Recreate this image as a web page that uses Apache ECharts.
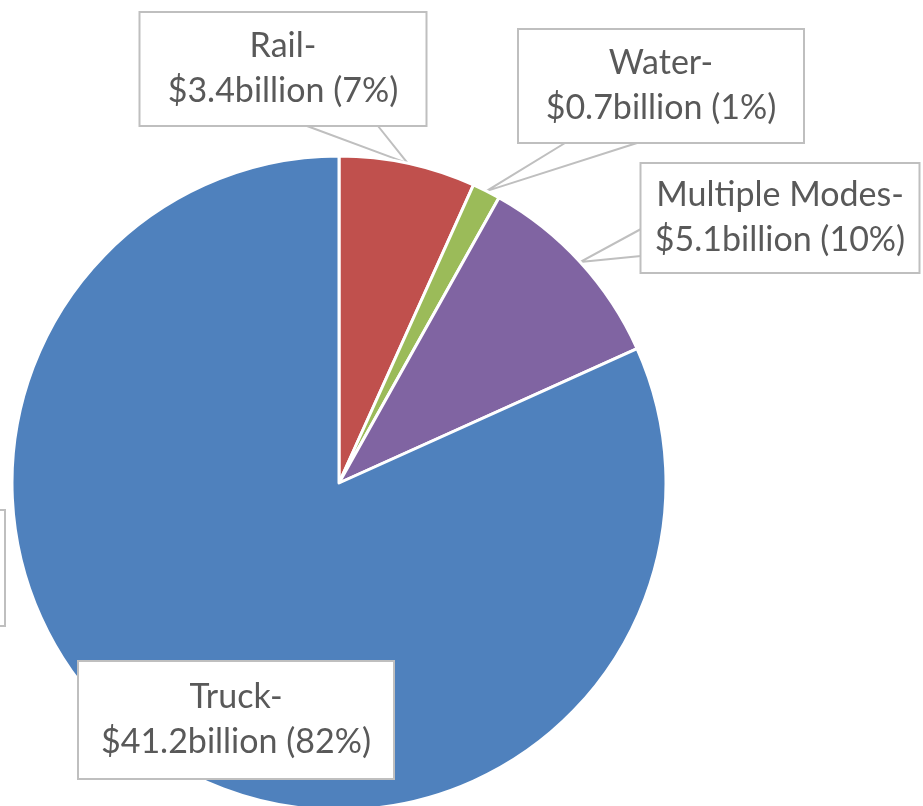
<!DOCTYPE html>
<html>
<head>
<meta charset="utf-8">
<script src="https://cdn.jsdelivr.net/npm/echarts@6/dist/echarts.min.js"></script>
<style>
html,body{margin:0;padding:0;background:#fff;}
#chart{width:923px;height:806px;}
</style>
</head>
<body>
<div id="chart"></div>
<script>
const categories = ["Rail", "Water", "Multiple Modes", "Truck"];
const valuesBillion = [3.4, 0.7, 5.1, 41.2];
const colors = ["#C0504D", "#9BBB59", "#8064A2", "#4F81BD"];

// label box centres and callout base points (layout only)
const labelBoxes = [
  {x: 283, y: 69, w: 289, h: 116, base: [[307, 126], [378, 126]]},
  {x: 661, y: 86, w: 288, h: 116, base: [[565, 143], [637, 143]]},
  {x: 780, y: 218, w: 281, h: 112, base: [[641, 229], [641, 256]]},
  {x: 236, y: 720, w: 318, h: 120, base: null}
];

const chart = echarts.init(document.getElementById('chart'), null, {renderer: 'canvas'});
const data = categories.map((c, i) => ({
  name: c,
  value: valuesBillion[i],
  itemStyle: {color: colors[i]},
  labelLine: {show: labelBoxes[i].base !== null},
  label: {width: labelBoxes[i].w - 4, height: labelBoxes[i].h - 4}
}));

chart.setOption({
  animation: false,
  backgroundColor: '#ffffff',
  graphic: [{
    type: 'rect', left: -300, top: 509,
    shape: {width: 304, height: 116},
    style: {fill: '#ffffff', stroke: '#BFBFBF', lineWidth: 2},
    z: -1
  }],
  series: [{
    type: 'pie',
    center: [339, 483],
    radius: 327,
    startAngle: 90,
    clockwise: true,
    avoidLabelOverlap: false,
    itemStyle: {borderColor: '#ffffff', borderWidth: 3},
    label: {
      show: true,
      position: 'outside',
      formatter: p => p.name + '-\n$' + p.value + 'billion (' + Math.round(p.percent) + '%)',
      fontFamily: 'Lato',
      fontSize: 34,
      lineHeight: 45,
      color: '#595959',
      backgroundColor: '#ffffff',
      borderColor: '#BFBFBF',
      borderWidth: 2,
      align: 'center',
      verticalAlign: 'middle'
    },
    labelLine: {
      show: true,
      length: 10, length2: 10,
      lineStyle: {color: '#BFBFBF', width: 2}
    },
    labelLayout: function (params) {
      const b = labelBoxes[params.dataIndex];
      const out = {x: b.x, y: b.y, align: 'center', verticalAlign: 'middle'};
      if (b.base && params.labelLinePoints) {
        const tip = params.labelLinePoints[0];
        out.labelLinePoints = [b.base[0], [tip[0], tip[1]], b.base[1]];
      }
      return out;
    },
    data: data
  }]
});
</script>
</body>
</html>
